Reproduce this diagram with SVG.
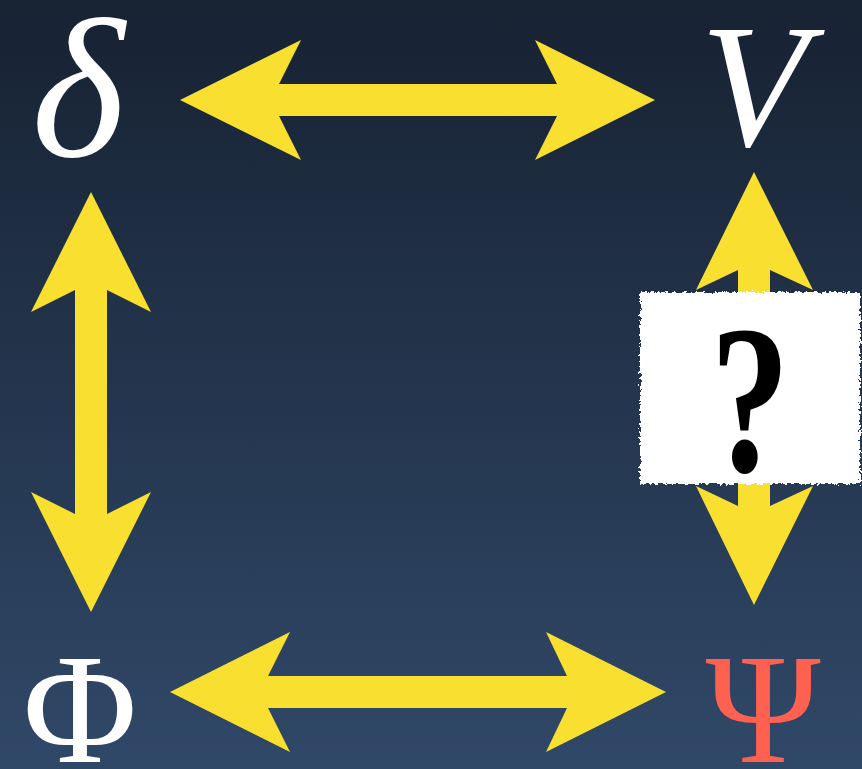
<svg xmlns="http://www.w3.org/2000/svg" width="862" height="769" viewBox="0 0 862 769">
<defs>
<linearGradient id="bg" x1="0" y1="0" x2="0" y2="1">
<stop offset="0" stop-color="#172232"/>
<stop offset="1" stop-color="#304868"/>
</linearGradient>
<filter id="rough" x="-5%" y="-5%" width="110%" height="110%">
<feTurbulence type="fractalNoise" baseFrequency="0.35" numOctaves="2" seed="3" result="n"/>
<feDisplacementMap in="SourceGraphic" in2="n" scale="7" xChannelSelector="R" yChannelSelector="G"/>
</filter>
</defs>
<style>
.arrow{fill:#f9e030}
.sym{font-family:"Liberation Serif","Times New Roman",serif;text-anchor:middle}
</style>
<rect width="862" height="769" fill="url(#bg)"/>
<g id="connectors">
<polygon class="arrow" points="180,100 301,40 279,84 557,84 535,40 655,100 535,160 557,116 279,116 301,160"/>
<polygon class="arrow" points="170,692 290,632 268,676 567,676 546,632 666,692 546,752 567,708 268,708 290,752"/>
<polygon class="arrow" points="91,192 151,312 107,290 107,514 151,492 91,612 31,492 75,514 75,290 31,312"/>
<polygon class="arrow" points="754,172 813,290 770,270 770,506 813,486 754,605 696,486 738,506 738,270 696,290"/>
</g>
<g id="delta"><text class="sym" x="78" y="156" font-size="200" font-style="italic" fill="#ffffff">δ</text></g>
<g id="V"><text class="sym" x="754" y="145" font-size="176" font-style="italic" fill="#ffffff">V</text></g>
<g id="Phi"><text class="sym" x="80" y="762" font-size="156" fill="#ffffff">Φ</text></g>
<g id="Psi"><text class="sym" x="763" y="762" font-size="156" fill="#ff6150">Ψ</text></g>
<g id="question">
<rect x="640" y="292" width="220" height="192" fill="#ffffff" filter="url(#rough)"/>
<text class="sym" transform="translate(750,0) scale(0.75,1)" x="0" y="471" font-size="212" font-weight="bold" fill="#000000">?</text>
</g>
</svg>
